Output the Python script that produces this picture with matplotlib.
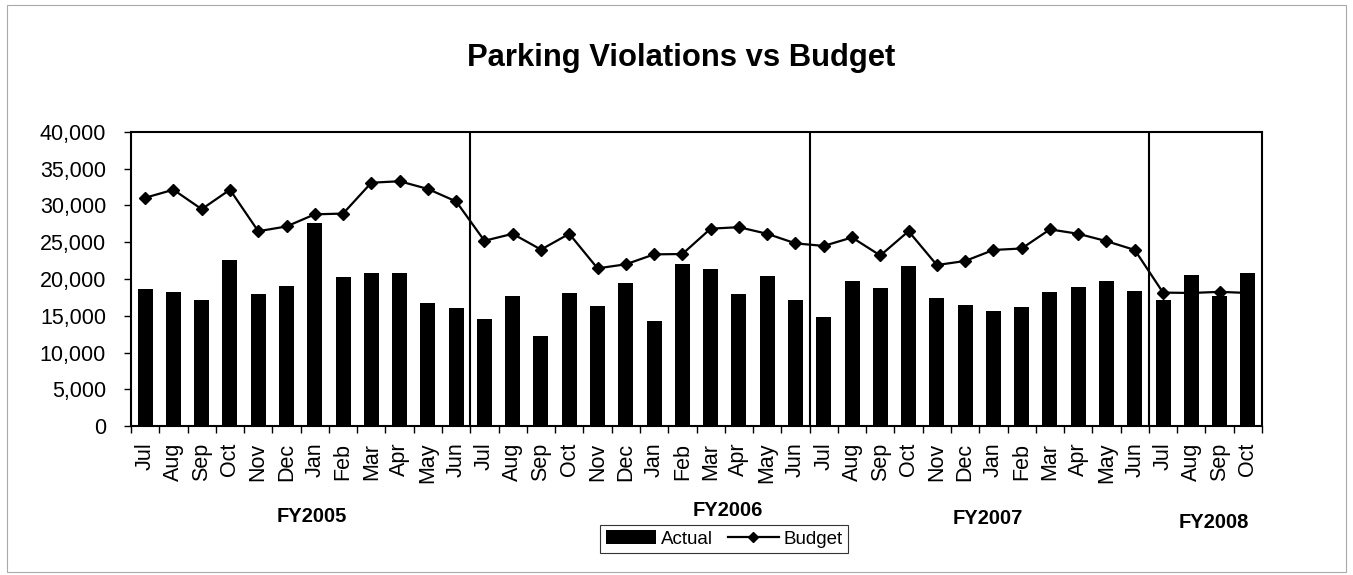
import matplotlib
matplotlib.use("Agg")
import matplotlib.pyplot as plt
from matplotlib.ticker import FuncFormatter, FixedLocator
from matplotlib.patches import Rectangle

plt.rcParams['font.family'] = ['Liberation Sans', 'DejaVu Sans']

months = ["Jul", "Aug", "Sep", "Oct", "Nov", "Dec", "Jan", "Feb", "Mar", "Apr", "May", "Jun",
          "Jul", "Aug", "Sep", "Oct", "Nov", "Dec", "Jan", "Feb", "Mar", "Apr", "May", "Jun",
          "Jul", "Aug", "Sep", "Oct", "Nov", "Dec", "Jan", "Feb", "Mar", "Apr", "May", "Jun",
          "Jul", "Aug", "Sep", "Oct"]

actual = [18700, 18250, 17200, 22650, 17930, 19100, 27600, 20250, 20750, 20750, 16800, 16100,
          14600, 17700, 12300, 18100, 16350, 19450, 14250, 22000, 21300, 17900, 20400, 17200,
          14850, 19700, 18750, 21800, 17480, 16400, 15680, 16150, 18200, 18900, 19700, 18340,
          17120, 20500, 17750, 20850]

budget = [31050, 32150, 29500, 32150, 26500, 27150, 28800, 28900, 33100, 33300, 32250, 30550,
          25200, 26150, 24000, 26150, 21450, 22000, 23350, 23400, 26850, 27050, 26150, 24850,
          24500, 25650, 23200, 26500, 21900, 22450, 23950, 24150, 26750, 26150, 25150, 23950,
          18150, 18100, 18250, 18100]

fiscal_years = ["FY2005", "FY2006", "FY2007", "FY2008"]
fy_label_pos = [5.9, 20.6, 29.8, 37.8]   # category positions of the FY labels
fy_breaks = [11.5, 23.5, 35.5]

W, H = 1353, 575
fig = plt.figure(figsize=(W / 100, H / 100), dpi=100)
ax = fig.add_axes([131 / W, 1 - 426 / H, (1262 - 131) / W, (426 - 132) / H])

x = list(range(len(months)))
bars = ax.bar(x, actual, width=0.53, color="black", label="Actual", zorder=2)
line, = ax.plot(x, budget, color="black", lw=1.6, marker="D", markersize=6.5,
                label="Budget", zorder=3)

for b in fy_breaks:
    ax.axvline(b, color="black", lw=1.5, zorder=1)

ax.set_xlim(-0.5, len(months) - 0.5)
ax.set_ylim(0, 40000)
ax.set_yticks(range(0, 40001, 5000))
ax.yaxis.set_major_formatter(FuncFormatter(lambda v, p: f"{int(v):,}"))
ax.tick_params(axis="y", labelsize=15.5, length=5, width=1, direction="out", pad=13)

ax.set_xticks(x)
ax.set_xticklabels(months, rotation=90, fontsize=15.5)
ax.tick_params(axis="x", which="major", length=0, pad=12)
ax.xaxis.set_minor_locator(FixedLocator([i - 0.5 for i in range(len(months) + 1)]))
ax.tick_params(axis="x", which="minor", length=5, width=1, direction="out")

for s in ax.spines.values():
    s.set_linewidth(1.5)

fig.text(681 / W, 1 - 66 / H, "Parking Violations vs Budget", fontsize=22.3,
         fontweight="bold", ha="center", va="baseline")

fy_ypix = [517, 511, 518, 523]
for name, pos, yp in zip(fiscal_years, fy_label_pos, fy_ypix):
    fig.text(ax.transData.transform((pos, 0))[0] / W, 1 - yp / H, name,
             fontsize=14.5, fontweight="bold", ha="center", va="center")

leg = fig.legend([bars, line], ["Actual", "Budget"], loc="center",
                 bbox_to_anchor=(724 / W, 1 - 539 / H), ncol=2,
                 frameon=True, fancybox=False, edgecolor="black", fontsize=13.5,
                 handlelength=2.7, handletextpad=0.25, columnspacing=0.8,
                 borderpad=0.3, borderaxespad=0, markerscale=0.75)
leg.get_frame().set_linewidth(0.8)

fig.patches.append(Rectangle((7 / W, 3 / H), (1346 - 7) / W, (570 - 3) / H,
                             transform=fig.transFigure, fill=False,
                             edgecolor="#aaaaaa", lw=0.8))

fig.savefig("out.png", dpi=100)
